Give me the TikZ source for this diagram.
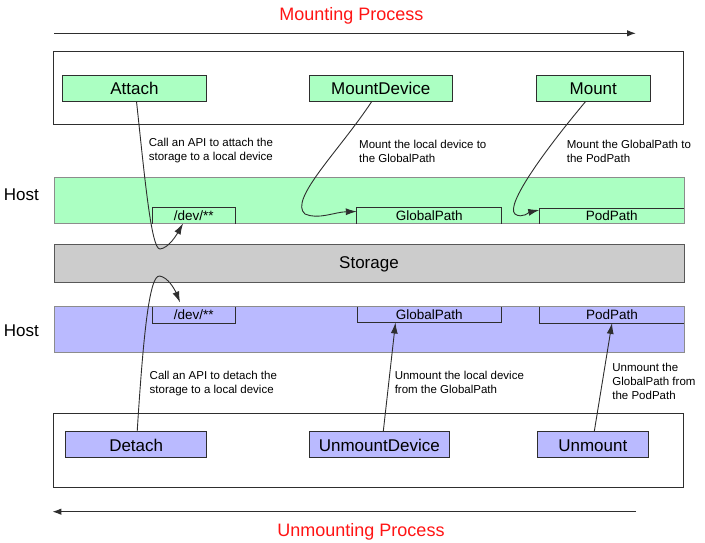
\documentclass[tikz,border=0pt]{standalone}
\usepackage{fontspec}
\setmainfont{Liberation Sans}
\usetikzlibrary{arrows.meta}
\pgfdeclarelayer{bandlayer}
\pgfdeclarelayer{edgelayer}
\pgfdeclarelayer{nodelayer}
\pgfsetlayers{bandlayer,edgelayer,nodelayer,main}
\tikzstyle{none}=[inner sep=0pt]
\definecolor{mint}{rgb}{0.67,1.0,0.76}
\definecolor{lavender}{rgb}{0.73,0.73,1.0}
\definecolor{storagegray}{rgb}{0.8,0.8,0.8}
\definecolor{framegray}{rgb}{0.18,0.18,0.18}
\definecolor{bandgray}{rgb}{0.55,0.55,0.55}
\definecolor{processred}{rgb}{1.0,0.08,0.08}
\tikzstyle{frame}=[style=none, rectangle, draw=framegray, line width=0.9pt, minimum width=630pt]
\tikzstyle{band}=[style=none, rectangle, draw=bandgray, line width=0.7pt, minimum width=630pt, minimum height=46pt, text height=11pt, text depth=0pt, font=\fontsize{17}{20}\selectfont]
\tikzstyle{callbox}=[style=none, rectangle, draw=framegray, line width=0.8pt, minimum height=26pt, text height=14pt, text depth=0.5pt, font=\fontsize{17}{20}\selectfont]
\tikzstyle{pathbox}=[style=none, rectangle, font=\fontsize{13.5}{16}\selectfont]
\tikzstyle{pathedge}=[draw=framegray, line width=0.8pt]
\tikzstyle{note}=[style=none, anchor=north west, align=left, font=\fontsize{11.5}{14}\selectfont]
\tikzstyle{title}=[style=none, anchor=base, text=processred, font=\fontsize{18}{20}\selectfont]
\tikzstyle{flow}=[framegray, line width=0.9pt, -{Latex[length=11pt,width=7pt]}]
\tikzstyle{process}=[framegray, line width=1.2pt, -{Latex[length=9pt,width=6.5pt]}]

\begin{document}
\begin{tikzpicture}[x=1pt,y=-1pt]
	\useasboundingbox (0,0) rectangle (705,543);
	\begin{pgfonlayer}{bandlayer}
		\node [style=frame, minimum height=72.3pt] (13) at (368.5,87.85) {};
		\node [style=frame, minimum height=74pt] (14) at (368.5,450.3) {};
		\node [style=band, fill=mint] (15) at (369,200.4) {};
		\node [style=band, fill=storagegray, draw=framegray!80, minimum height=38.3pt] (6) at (369,263.15) {Storage};
		\node [style=band, fill=lavender] (16) at (369,329.7) {};
	\end{pgfonlayer}
	\begin{pgfonlayer}{nodelayer}
		\node [style=callbox, fill=mint, minimum width=144.4pt] (0) at (134.5,88) {Attach};
		\node [style=callbox, fill=mint, minimum width=143pt] (1) at (380.8,88) {MountDevice};
		\node [style=callbox, fill=mint, minimum width=113.3pt] (2) at (593.3,88) {Mount};
		\node [style=pathbox, fill=mint, minimum width=82.7pt, minimum height=15.6pt] (3) at (193.65,215.5) {/dev/**};
		\node [style=pathbox, fill=mint, minimum width=144.4pt, minimum height=15.6pt] (4) at (429.2,215.5) {GlobalPath};
		\node [style=pathbox, fill=mint, minimum width=144.5pt, minimum height=14.6pt] (5) at (611.75,216) {PodPath};
		\node [style=pathbox, fill=lavender, minimum width=82.7pt, minimum height=16pt] (7) at (193.65,314.7) {/dev/**};
		\node [style=pathbox, fill=lavender, minimum width=144pt, minimum height=15.6pt] (8) at (429.3,314.5) {GlobalPath};
		\node [style=pathbox, fill=lavender, minimum width=144pt, minimum height=16pt] (9) at (612,314.7) {PodPath};
		\node [style=callbox, fill=lavender, minimum width=141pt] (10) at (136.2,444.7) {Detach};
		\node [style=callbox, fill=lavender, minimum width=139.7pt] (11) at (379.3,444.7) {UnmountDevice};
		\node [style=callbox, fill=lavender, minimum width=111pt] (12) at (592.8,444.7) {Unmount};
		\node [style=none, font=\fontsize{17}{20}\selectfont] (17) at (21.3,195) {Host};
		\node [style=none, font=\fontsize{17}{20}\selectfont] (18) at (21.3,331) {Host};
		\node [style=title] (19) at (351.4,20.5) {Mounting Process};
		\node [style=title] (20) at (361,536) {Unmounting Process};
		\node [style=note] (21) at (148.7,138) {Call an API to attach the\\storage to a local device};
		\node [style=note] (22) at (359,139.5) {Mount the local device to\\the GlobalPath};
		\node [style=note] (23) at (566.7,139.5) {Mount the GlobalPath to\\the PodPath};
		\node [style=note] (24) at (149.5,370.5) {Call an API to detach the\\storage to a local device};
		\node [style=note] (25) at (394.6,370.5) {Unmount the local device\\from the GlobalPath};
		\node [style=note] (26) at (612.2,363) {Unmount the\\GlobalPath from\\the PodPath};
		\coordinate (27) at (54,33.3);
		\coordinate (28) at (636,33.3);
		\coordinate (29) at (636,511.7);
		\coordinate (30) at (52.3,511.7);
		\draw [style=pathedge] (3.south west) |- (3.north east) -- (3.south east);
		\draw [style=pathedge] (4.south west) |- (4.north east) -- (4.south east);
		\draw [style=pathedge] (5.south west) |- (5.north east);
		\draw [style=pathedge] (7.north west) |- (7.south east) -- (7.north east);
		\draw [style=pathedge] (8.north west) |- (8.south east) -- (8.north east);
		\draw [style=pathedge] (9.north west) |- (9.south east);
	\end{pgfonlayer}
	\begin{pgfonlayer}{edgelayer}
		\draw [style=process] (27) to (28);
		\draw [style=process] (29) to (30);
		\draw [style=flow] ([xshift=2pt]0.south) .. controls (144,170) and (151,250) .. (160,249) .. controls (169,248) and (177,234) .. ([xshift=-10.6pt]3.south);
		\draw [style=flow] ([xshift=-9pt]1.south) .. controls (340,150) and (288,200) .. (305,214) .. controls (318,220) and (335,212) .. ([yshift=4pt]4.west);
		\draw [style=flow] ([xshift=-7.6pt]2.south) .. controls (545,150) and (505,205) .. (515,214) .. controls (522,219) and (530,212) .. ([yshift=6pt]5.west);
		\draw [style=flow] ([xshift=1pt]10.north) .. controls (143,340) and (149,275) .. (159.5,276) .. controls (168,277) and (175,290) .. ([xshift=-13.6pt,yshift=4pt]7.north);
		\draw [style=flow] ([xshift=4pt]11.north) to ([xshift=-33.8pt]8.south);
		\draw [style=flow] ([xshift=1.5pt]12.north) to (9.south);
	\end{pgfonlayer}
\end{tikzpicture}
\end{document}
